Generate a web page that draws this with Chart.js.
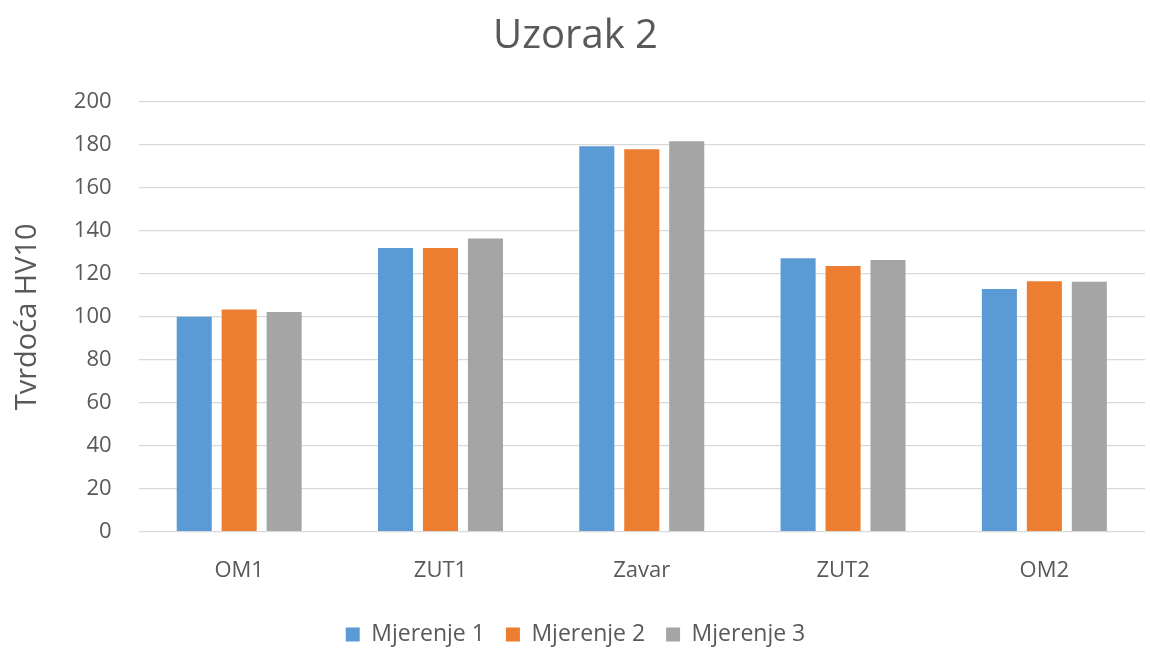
<!DOCTYPE html>
<html lang="hr">
<head>
  <meta charset="UTF-8">
  <title>Uzorak 2</title>
  <script src="https://cdn.jsdelivr.net/npm/chart.js"></script>
  <style>
    html, body { margin: 0; padding: 0; background: #fff; }
    #wrap { width: 1150px; height: 650px; }
  </style>
</head>
<body>
  <div id="wrap"><canvas id="chart"></canvas></div>
  <script>
    const categories = ['OM1', 'ZUT1', 'Zavar', 'ZUT2', 'OM2'];
    const mjerenje1 = [100, 132, 179.4, 127.2, 113];
    const mjerenje2 = [103.4, 132, 178, 123.6, 116.6];
    const mjerenje3 = [102.2, 136.5, 181.7, 126.4, 116.3];

    const textColor = '#595959';
    const font = '"Open Sans", "Noto Sans", sans-serif';

    new Chart(document.getElementById('chart'), {
      type: 'bar',
      data: {
        labels: categories,
        datasets: [
          { label: 'Mjerenje 1', data: mjerenje1, backgroundColor: '#5B9BD5' },
          { label: 'Mjerenje 2', data: mjerenje2, backgroundColor: '#ED7D31' },
          { label: 'Mjerenje 3', data: mjerenje3, backgroundColor: '#A5A5A5' }
        ]
      },
      options: {
        responsive: true,
        maintainAspectRatio: false,
        animation: false,
        categoryPercentage: 0.67,
        barPercentage: 0.78,
        layout: { padding: { left: 6, right: 5, top: 9, bottom: -6 } },
        plugins: {
          title: {
            display: true,
            text: 'Uzorak 2',
            color: textColor,
            font: { family: font, size: 40, weight: 'normal' },
            padding: { top: 4, bottom: 41 }
          },
          legend: {
            position: 'bottom',
            labels: {
              color: textColor,
              font: { family: font, size: 23 },
              boxWidth: 14,
              boxHeight: 14,
              padding: 21
            }
          },
          tooltip: { enabled: false }
        },
        scales: {
          x: {
            grid: { display: false },
            border: { display: false },
            ticks: { color: textColor, font: { family: font, size: 22 }, padding: 18 }
          },
          y: {
            min: 0,
            max: 200,
            ticks: { stepSize: 20, color: textColor, font: { family: font, size: 22 }, padding: 27 },
            grid: { color: '#D9D9D9', lineWidth: 1.3, drawTicks: false },
            border: { display: false },
            title: {
              display: true,
              text: 'Tvrdoća HV10',
              color: textColor,
              font: { family: font, size: 29 },
              padding: { bottom: 2 }
            }
          }
        }
      }
    });
  </script>
</body>
</html>
